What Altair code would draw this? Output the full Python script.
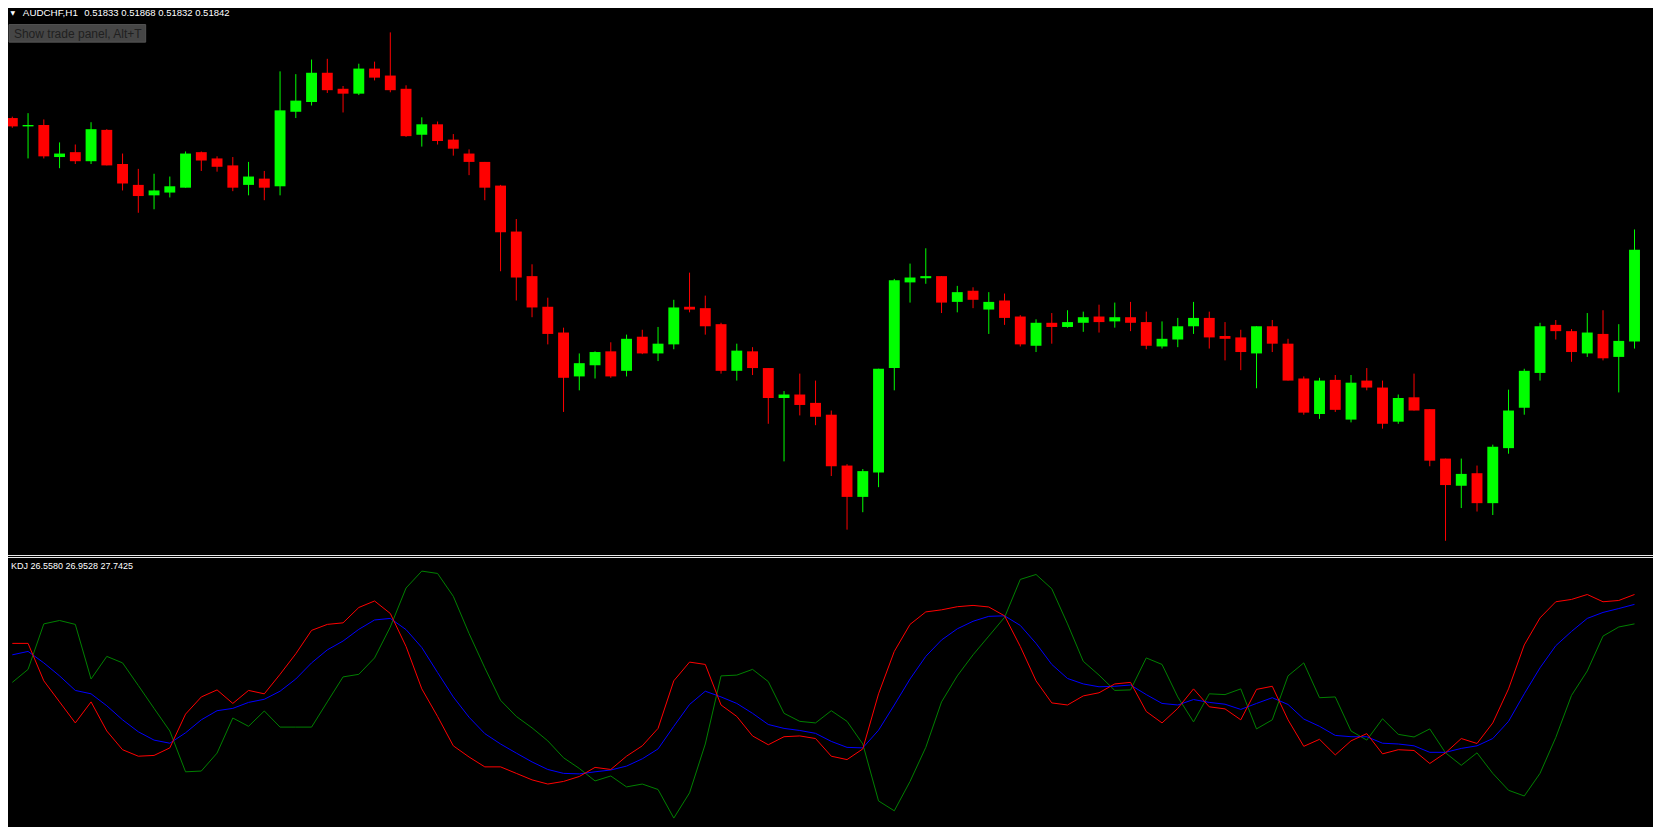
import altair as alt
import pandas as pd

# ---------------- data (AUDCHF, H1) ----------------
opens = [0.52442, 0.52430, 0.52432, 0.52386, 0.52393, 0.52380, 0.52425, 0.52376, 0.52346, 0.52331,
         0.52335, 0.52342, 0.52393, 0.52384, 0.52374, 0.52346, 0.52355, 0.52344, 0.52451, 0.52465,
         0.52507, 0.52484, 0.52477, 0.52513, 0.52503, 0.52484, 0.52418, 0.52433, 0.52411, 0.52391,
         0.52379, 0.52345, 0.52279, 0.52215, 0.52171, 0.52134, 0.52071, 0.52087, 0.52107, 0.52079,
         0.52128, 0.52104, 0.52117, 0.52171, 0.52169, 0.52146, 0.52079, 0.52107, 0.52083, 0.52040,
         0.52045, 0.52033, 0.52016, 0.51943, 0.51898, 0.51933, 0.52083, 0.52206, 0.52212, 0.52215,
         0.52178, 0.52194, 0.52167, 0.52180, 0.52157, 0.52115, 0.52148, 0.52142, 0.52148, 0.52157,
         0.52150, 0.52156, 0.52149, 0.52114, 0.52124, 0.52143, 0.52155, 0.52129, 0.52127, 0.52104,
         0.52143, 0.52118, 0.52068, 0.52017, 0.52066, 0.52009, 0.52065, 0.52055, 0.52006, 0.52041,
         0.52024, 0.51953, 0.51914, 0.51932, 0.51889, 0.51968, 0.52026, 0.52076, 0.52145, 0.52136,
         0.52104, 0.52132, 0.52099, 0.52121]
highs = [0.52444, 0.52449, 0.52440, 0.52407, 0.52404, 0.52436, 0.52426, 0.52391, 0.52369, 0.52362,
         0.52358, 0.52394, 0.52394, 0.52387, 0.52386, 0.52379, 0.52366, 0.52509, 0.52505, 0.52526,
         0.52527, 0.52488, 0.52520, 0.52523, 0.52565, 0.52489, 0.52443, 0.52437, 0.52419, 0.52397,
         0.52379, 0.52346, 0.52297, 0.52232, 0.52184, 0.52141, 0.52104, 0.52107, 0.52120, 0.52131,
         0.52138, 0.52142, 0.52181, 0.52220, 0.52187, 0.52148, 0.52118, 0.52113, 0.52083, 0.52050,
         0.52075, 0.52065, 0.52022, 0.51945, 0.51938, 0.52082, 0.52211, 0.52233, 0.52255, 0.52215,
         0.52201, 0.52199, 0.52192, 0.52190, 0.52159, 0.52153, 0.52162, 0.52166, 0.52164, 0.52174,
         0.52177, 0.52178, 0.52164, 0.52150, 0.52155, 0.52178, 0.52164, 0.52149, 0.52138, 0.52143,
         0.52152, 0.52125, 0.52071, 0.52069, 0.52073, 0.52073, 0.52083, 0.52065, 0.52045, 0.52075,
         0.52024, 0.51953, 0.51953, 0.51943, 0.51973, 0.52052, 0.52082, 0.52148, 0.52152, 0.52139,
         0.52162, 0.52166, 0.52146, 0.52282]
lows = [0.52428, 0.52384, 0.52384, 0.52370, 0.52376, 0.52376, 0.52374, 0.52338, 0.52306, 0.52311,
        0.52328, 0.52342, 0.52366, 0.52365, 0.52337, 0.52331, 0.52324, 0.52331, 0.52442, 0.52460,
        0.52478, 0.52450, 0.52475, 0.52496, 0.52479, 0.52415, 0.52401, 0.52404, 0.52388, 0.52360,
        0.52324, 0.52222, 0.52180, 0.52156, 0.52117, 0.52020, 0.52051, 0.52068, 0.52069, 0.52071,
        0.52103, 0.52093, 0.52110, 0.52163, 0.52131, 0.52075, 0.52065, 0.52073, 0.52003, 0.51949,
        0.52015, 0.52001, 0.51928, 0.51851, 0.51876, 0.51912, 0.52051, 0.52177, 0.52204, 0.52162,
        0.52163, 0.52169, 0.52132, 0.52145, 0.52114, 0.52106, 0.52118, 0.52141, 0.52135, 0.52134,
        0.52141, 0.52136, 0.52110, 0.52111, 0.52113, 0.52132, 0.52111, 0.52094, 0.52080, 0.52054,
        0.52106, 0.52065, 0.52016, 0.52010, 0.52020, 0.52005, 0.52051, 0.51996, 0.52003, 0.52022,
        0.51942, 0.51835, 0.51882, 0.51877, 0.51872, 0.51960, 0.52016, 0.52065, 0.52124, 0.52092,
        0.52099, 0.52094, 0.52048, 0.52111]
closes = [0.52430, 0.52432, 0.52387, 0.52391, 0.52380, 0.52426, 0.52374, 0.52348, 0.52330, 0.52338,
          0.52344, 0.52391, 0.52381, 0.52372, 0.52342, 0.52358, 0.52342, 0.52453, 0.52467, 0.52507,
          0.52482, 0.52477, 0.52513, 0.52500, 0.52482, 0.52416, 0.52433, 0.52409, 0.52398, 0.52379,
          0.52342, 0.52278, 0.52213, 0.52170, 0.52132, 0.52069, 0.52090, 0.52106, 0.52071, 0.52125,
          0.52104, 0.52118, 0.52170, 0.52167, 0.52143, 0.52079, 0.52108, 0.52083, 0.52040, 0.52045,
          0.52030, 0.52013, 0.51942, 0.51898, 0.51935, 0.52082, 0.52209, 0.52213, 0.52215, 0.52177,
          0.52192, 0.52181, 0.52178, 0.52155, 0.52117, 0.52148, 0.52142, 0.52149, 0.52156, 0.52149,
          0.52156, 0.52148, 0.52115, 0.52125, 0.52143, 0.52155, 0.52127, 0.52125, 0.52106, 0.52143,
          0.52118, 0.52065, 0.52019, 0.52065, 0.52023, 0.52062, 0.52055, 0.52003, 0.52040, 0.52022,
          0.51950, 0.51915, 0.51931, 0.51889, 0.51970, 0.52022, 0.52079, 0.52143, 0.52136, 0.52106,
          0.52134, 0.52097, 0.52122, 0.52253]

k_vals = [70.0, 70.0, 55.6, 47.5, 39.4, 47.5, 36.3, 29.1, 26.6, 26.9,
          29.8, 42.8, 49.4, 52.1, 46.9, 51.9, 50.6, 58.1, 66.0, 75.0,
          77.3, 77.9, 83.8, 86.3, 81.5, 68.8, 52.5, 41.9, 30.6, 26.3,
          22.5, 22.5, 20.0, 17.5, 15.9, 16.9, 18.8, 22.3, 21.5, 26.6,
          30.6, 37.3, 55.6, 62.8, 61.9, 46.3, 41.9, 34.4, 31.0, 34.1,
          34.4, 33.4, 26.6, 25.3, 29.4, 50.6, 66.9, 77.3, 82.1, 82.9,
          84.1, 84.6, 84.0, 80.6, 68.8, 55.6, 47.1, 46.3, 49.8, 51.0,
          54.4, 55.0, 43.8, 39.4, 45.0, 52.5, 45.6, 44.8, 40.6, 52.3,
          53.5, 40.6, 30.4, 33.1, 27.1, 32.5, 35.3, 27.5, 29.1, 28.8,
          23.8, 27.9, 33.4, 31.5, 39.4, 52.5, 69.4, 79.8, 86.0, 86.9,
          88.8, 86.0, 86.5, 88.8]
d_vals = [65.6, 66.9, 62.5, 57.5, 51.9, 50.6, 46.0, 40.6, 36.0, 32.8,
          31.6, 35.6, 40.6, 44.1, 45.0, 47.3, 48.5, 51.6, 56.3, 62.5,
          67.5, 70.9, 75.4, 79.0, 79.6, 75.3, 68.4, 58.8, 49.4, 41.6,
          35.3, 31.3, 27.8, 24.4, 21.5, 20.0, 19.8, 20.6, 21.3, 22.8,
          25.6, 29.4, 38.1, 46.5, 51.6, 49.4, 46.9, 43.1, 38.8, 37.3,
          36.5, 35.4, 32.3, 30.0, 29.8, 36.6, 46.3, 56.3, 65.0, 71.3,
          75.6, 78.5, 80.4, 80.6, 76.9, 70.0, 61.9, 56.5, 54.4, 53.3,
          53.5, 54.0, 50.3, 46.9, 46.3, 48.4, 47.3, 46.6, 44.6, 46.9,
          49.1, 46.5, 40.9, 38.1, 34.6, 34.1, 34.1, 31.6, 31.3, 30.6,
          28.1, 28.1, 29.6, 30.6, 33.4, 40.0, 50.6, 60.6, 69.1, 74.6,
          79.6, 81.9, 83.4, 85.0]
j_vals = [55.0, 60.0, 77.5, 78.8, 77.3, 56.3, 65.0, 62.5, 53.8, 45.0,
          36.3, 20.6, 20.9, 27.8, 41.3, 38.1, 44.0, 37.8, 37.8, 37.8,
          47.5, 57.1, 58.1, 64.4, 76.3, 91.3, 97.8, 96.9, 88.1, 73.8,
          60.6, 48.1, 41.9, 37.5, 32.5, 26.0, 21.9, 17.1, 19.0, 14.8,
          15.9, 13.8, 2.8, 12.5, 31.3, 57.5, 57.8, 60.0, 55.3, 43.1,
          40.0, 39.4, 44.1, 40.0, 31.3, 9.4, 5.6, 16.9, 30.0, 47.5,
          57.5, 65.6, 72.8, 80.0, 94.6, 96.5, 91.0, 77.5, 63.1, 57.8,
          51.9, 52.1, 64.4, 61.9, 49.4, 39.8, 50.6, 50.3, 52.5, 37.1,
          40.6, 57.5, 62.5, 49.1, 49.4, 36.3, 32.8, 41.0, 35.0, 34.0,
          37.1, 27.9, 23.1, 27.9, 20.0, 13.5, 11.3, 20.0, 33.8, 50.0,
          59.4, 72.8, 76.3, 77.5]

symbol_label = "AUDCHF,H1"
quote_label = "0.51833 0.51868 0.51832 0.51842"
kdj_label = "KDJ 26.5580 26.9528 27.7425"
button_label = "Show trade panel, Alt+T"

# ---------------- layout ----------------
W, H = 1645, 819
GX = W / 1661.0
GY = H / 840.0

n = len(opens)
idx = list(range(n))
candles = pd.DataFrame({"i": idx, "open": opens, "high": highs, "low": lows, "close": closes})
candles["dir"] = ["up" if c >= o else "down" for o, c in zip(opens, closes)]

x_scale = alt.Scale(domain=[0.7 / 16, (1661 + 0.7) / 16], range=[0, W], nice=False, zero=False)
price_scale = alt.Scale(domain=[0.51816, 0.52600], range=[560 * GY, 0], nice=False, zero=False)
kdj_scale = alt.Scale(domain=[0, 100], range=[838.33 * GY, 571.67 * GY], nice=False, zero=False)
dir_scale = alt.Scale(domain=["up", "down"], range=["#00ff00", "#ff0000"])

X = alt.X("i:Q", scale=x_scale, axis=None)

wicks = alt.Chart(candles).mark_rule(strokeWidth=1).encode(
    x=X,
    y=alt.Y("low:Q", scale=price_scale, axis=None),
    y2="high:Q",
    color=alt.Color("dir:N", scale=dir_scale, legend=None),
)
bodies = alt.Chart(candles).mark_bar(size=11 * GX).encode(
    x=X,
    y=alt.Y("open:Q", scale=price_scale, axis=None),
    y2="close:Q",
    color=alt.Color("dir:N", scale=dir_scale, legend=None),
)


def kdj_line(vals, colour):
    df = pd.DataFrame({"i": idx, "value": vals})
    return alt.Chart(df).mark_line(strokeWidth=1, color=colour).encode(
        x=X, y=alt.Y("value:Q", scale=kdj_scale, axis=None), order="i:Q"
    )


line_j = kdj_line(j_vals, "#008000")
line_d = kdj_line(d_vals, "#0000ff")
line_k = kdj_line(k_vals, "#ff0000")

one = pd.DataFrame({"a": [0]})
sep1 = alt.Chart(one).mark_rule(color="#e8e8e8", strokeWidth=1).encode(
    x=alt.value(0), x2=alt.value(W), y=alt.value(547.5))
sep2 = alt.Chart(one).mark_rule(color="#e8e8e8", strokeWidth=1).encode(
    x=alt.value(0), x2=alt.value(W), y=alt.value(549.5))


def label(txt, x, y, size, colour, font="Liberation Sans"):
    return alt.Chart(pd.DataFrame({"t": [txt]})).mark_text(
        align="left", baseline="middle", fontSize=size, color=colour, font=font
    ).encode(text="t:N", x=alt.value(x), y=alt.value(y))


tri = label("\u25BC", 2.5, 5.5 * GY, 6, "#ffffff", "DejaVu Sans")
sym = label(symbol_label, 15 * GX, 5.5 * GY, 9.8, "#ffffff")
quote = label(quote_label, 77 * GX, 5.5 * GY, 9.5, "#ffffff")
button = alt.Chart(one).mark_rect(fill="#464646", stroke="#545454", strokeWidth=1).encode(
    x=alt.value(1 * GX), x2=alt.value(139 * GX), y=alt.value(17 * GY), y2=alt.value(35 * GY))
button_txt = label(button_label, 6 * GX, 26.3 * GY, 12, "#202020")
kdj_txt = label(kdj_label, 3 * GX, 572 * GY, 9, "#ffffff")

chart = alt.layer(
    wicks, bodies, line_j, line_d, line_k, sep1, sep2, tri, sym, quote, button, button_txt, kdj_txt
).resolve_scale(
    y="independent", color="independent"
).properties(
    width=W, height=H, background="#000000", padding=0,
    autosize=alt.AutoSizeParams(type="none"),
).configure_view(stroke=None)

chart.save("out.html", embed_options={"renderer": "svg", "actions": False})
